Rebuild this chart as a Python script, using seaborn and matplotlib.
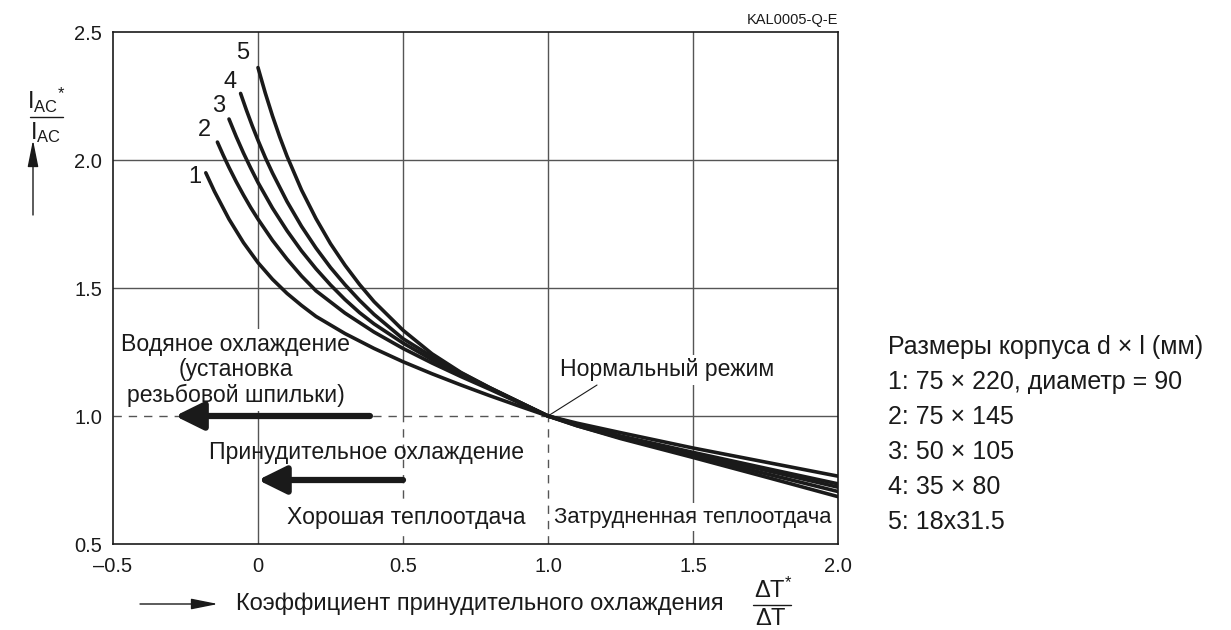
"""
Relative AC current vs. forced cooling coefficient
"""

import pandas as pd
import numpy as np
import matplotlib
matplotlib.use('Agg')
import matplotlib.pyplot as plt
from matplotlib.lines import Line2D
import seaborn as sns

"""
Data (read off the reference chart)
"""
curve_ids = ['1', '2', '3', '4', '5']

x_1 = [-0.18, -0.15, -0.10, -0.05, 0.00, 0.05, 0.10, 0.15, 0.20, 0.30, 0.40, 0.50,
       0.60, 0.70, 0.80, 0.90, 1.00, 1.10, 1.25, 1.50, 1.75, 2.00]
y_1 = [1.950, 1.877, 1.769, 1.677, 1.599, 1.534, 1.479, 1.432, 1.389, 1.322, 1.264, 1.212,
       1.165, 1.121, 1.079, 1.039, 1.000, 0.972, 0.935, 0.875, 0.820, 0.765]

x_2 = [-0.14, -0.12, -0.10, -0.075, -0.05, -0.025, 0.00, 0.05, 0.10, 0.15, 0.20, 0.30,
       0.40, 0.50, 0.60, 0.70, 0.80, 0.90, 1.00, 1.10, 1.25, 1.50, 1.75, 2.00]
y_2 = [2.070, 2.019, 1.971, 1.915, 1.863, 1.814, 1.769, 1.686, 1.613, 1.547, 1.489, 1.402,
       1.328, 1.264, 1.207, 1.154, 1.104, 1.052, 1.000, 0.968, 0.922, 0.858, 0.796, 0.735]

x_3 = [-0.10, -0.075, -0.05, -0.025, 0.00, 0.05, 0.10, 0.15, 0.20, 0.25, 0.30, 0.35,
       0.40, 0.50, 0.60, 0.70, 0.80, 0.90, 1.00, 1.10, 1.25, 1.50, 1.75, 2.00]
y_3 = [2.160, 2.091, 2.027, 1.968, 1.912, 1.812, 1.724, 1.645, 1.575, 1.512, 1.455, 1.404,
       1.360, 1.285, 1.220, 1.162, 1.108, 1.054, 1.000, 0.966, 0.918, 0.852, 0.788, 0.722]

x_4 = [-0.06, -0.04, -0.02, 0.00, 0.025, 0.05, 0.10, 0.15, 0.20, 0.25, 0.30, 0.35,
       0.40, 0.50, 0.60, 0.70, 0.80, 0.90, 1.00, 1.10, 1.25, 1.50, 1.75, 2.00]
y_4 = [2.260, 2.195, 2.134, 2.077, 2.010, 1.949, 1.838, 1.741, 1.656, 1.580, 1.513, 1.452,
       1.397, 1.302, 1.232, 1.168, 1.110, 1.055, 1.000, 0.962, 0.915, 0.845, 0.775, 0.705]

x_5 = [0.00, 0.025, 0.05, 0.075, 0.10, 0.15, 0.20, 0.25, 0.30, 0.35, 0.40, 0.50,
       0.60, 0.70, 0.80, 0.90, 1.00, 1.10, 1.25, 1.50, 1.75, 2.00]
y_5 = [2.361, 2.262, 2.172, 2.090, 2.015, 1.883, 1.771, 1.673, 1.589, 1.514, 1.447, 1.335,
       1.243, 1.170, 1.110, 1.055, 1.000, 0.962, 0.912, 0.838, 0.762, 0.685]

label_pos = {'1': (-0.217, 1.934), '2': (-0.183, 2.117), '3': (-0.134, 2.21),
             '4': (-0.097, 2.305), '5': (-0.052, 2.418)}

x_ticks = [-0.5, 0.0, 0.5, 1.0, 1.5, 2.0]
x_tick_labels = ['\u20130.5', '0', '0.5', '1.0', '1.5', '2.0']
y_ticks = [0.5, 1.0, 1.5, 2.0, 2.5]
y_tick_labels = ['0.5', '1.0', '1.5', '2.0', '2.5']

legend_lines = ['Размеры корпуса d \u00d7 l (мм)',
                '1: 75 \u00d7 220, диаметр = 90',
                '2: 75 \u00d7 145',
                '3: 50 \u00d7 105',
                '4: 35 \u00d7 80',
                '5: 18x31.5']

"""
Style
"""
W, H = 1231, 630
INK = '#1a1a1a'
GRID = '#555555'
FS = 16.6

sns.set_theme(style='white')
plt.rcParams['font.family'] = ['Liberation Sans', 'DejaVu Sans']
plt.rcParams['mathtext.fontset'] = 'custom'
plt.rcParams['mathtext.rm'] = 'Liberation Sans'
plt.rcParams['mathtext.it'] = 'Liberation Sans:italic'


def px(x, y):
    return x / W, 1 - y / H


def build_frame():
    xs = [x_1, x_2, x_3, x_4, x_5]
    ys = [y_1, y_2, y_3, y_4, y_5]
    parts = [pd.DataFrame({'curve': c, 'x': x, 'y': y}) for c, x, y in zip(curve_ids, xs, ys)]
    return pd.concat(parts, ignore_index=True)


def arrow(ax, tip, tail, lw, hl, hw, scale, coords='data'):
    ax.annotate('', xy=tip, xytext=tail, xycoords=coords, textcoords=coords,
                arrowprops=dict(arrowstyle=f'-|>,head_length={hl},head_width={hw}',
                                lw=lw, color=INK, shrinkA=0, shrinkB=0,
                                mutation_scale=scale))


def main():
    df = build_frame()

    fig = plt.figure(figsize=(W / 100, H / 100), dpi=100)
    ax = fig.add_axes([113 / W, 1 - 544 / H, (838 - 113) / W, (544 - 32) / H])

    # grid, with the dashed parts below / left of the nominal point
    ax.axvline(0.0, color=GRID, lw=1, zorder=1)
    ax.axvline(1.5, color=GRID, lw=1, zorder=1)
    for xv in [0.5, 1.0]:
        ax.axvline(xv, ymin=0.25, ymax=1, color=GRID, lw=1, zorder=1)
        ax.axvline(xv, ymin=0, ymax=0.25, color=GRID, lw=1, ls=(0, (6, 5)), zorder=1)
    for yv in [1.5, 2.0]:
        ax.axhline(yv, color=GRID, lw=1, zorder=1)
    ax.axhline(1.0, xmin=0.6, xmax=1, color=GRID, lw=1, zorder=1)
    ax.axhline(1.0, xmin=0, xmax=0.6, color=GRID, lw=1, ls=(0, (6, 5)), zorder=1)

    sns.lineplot(data=df, x='x', y='y', units='curve', estimator=None, sort=False,
                 color=INK, lw=2.6, ax=ax, zorder=5, legend=False)

    for c in curve_ids:
        lx, ly = label_pos[c]
        ax.text(lx, ly, c, fontsize=17, ha='center', va='center', color=INK)

    ax.set_xlim(-0.5, 2.0)
    ax.set_ylim(0.5, 2.5)
    ax.set_xticks(x_ticks, x_tick_labels)
    ax.set_yticks(y_ticks, y_tick_labels)
    ax.tick_params(length=0, labelsize=14.5, colors=INK)
    ax.tick_params(axis='x', pad=9)
    ax.tick_params(axis='y', pad=8)
    ax.set_xlabel('')
    ax.set_ylabel('')
    for s in ax.spines.values():
        s.set_color(INK)
        s.set_linewidth(1.2)

    box = dict(boxstyle='square,pad=0.15', fc='white', ec='none')

    ax.text(-0.076, 1.18, 'Водяное охлаждение\n(установка\nрезьбовой шпильки)',
            fontsize=FS, ha='center', va='center', linespacing=1.15, color=INK,
            bbox=box, zorder=3)
    arrow(ax, (-0.286, 1.0), (0.386, 1.0), lw=4.5, hl=0.85, hw=0.42, scale=20)

    ax.text(0.376, 0.859, 'Принудительное охлаждение', fontsize=FS,
            ha='center', va='center', color=INK, zorder=3)
    arrow(ax, (0.0, 0.75), (0.5, 0.75), lw=4.5, hl=0.85, hw=0.42, scale=20)

    ax.text(0.51, 0.605, 'Хорошая теплоотдача', fontsize=FS, ha='center',
            va='center', color=INK, bbox=box, zorder=3)
    ax.text(1.5, 0.605, 'Затрудненная теплоотдача', fontsize=15.8, ha='center',
            va='center', color=INK, bbox=box, zorder=3)

    ax.text(1.41, 1.18, 'Нормальный режим', fontsize=FS, ha='center',
            va='center', color=INK, bbox=box, zorder=3)
    ax.plot([1.0, 1.169], [1.0, 1.121], color=INK, lw=0.8, zorder=4)

    fig.text(*px(838, 20), 'KAL0005-Q-E', fontsize=10.5, ha='right', va='center', color=INK)

    # y axis label: fraction with arrow
    fig.text(*px(46, 100), r'$\mathregular{{I_{AC}}^{*}}$', fontsize=17,
             ha='center', va='center', color=INK)
    fig.add_artist(Line2D([30 / W, 63 / W], [1 - 117 / H, 1 - 117 / H], color=INK, lw=1))
    fig.text(*px(46, 133), r'$\mathregular{I_{AC}}$', fontsize=17,
             ha='center', va='center', color=INK)
    arrow(ax, px(33, 140), px(33, 215), lw=1, hl=1.1, hw=0.22, scale=15,
          coords='figure fraction')

    # x axis label
    arrow(ax, px(218, 604), px(140, 604), lw=1, hl=1.1, hw=0.22, scale=15,
          coords='figure fraction')
    fig.text(*px(236, 604), 'Коэффициент принудительного охлаждения', fontsize=17,
             ha='left', va='center', color=INK)
    fig.text(*px(773, 590), r'$\mathregular{\Delta T^{*}}$', fontsize=17,
             ha='center', va='center', color=INK)
    fig.add_artist(Line2D([753 / W, 791 / W], [1 - 605 / H, 1 - 605 / H], color=INK, lw=1))
    fig.text(*px(771, 619), r'$\mathregular{\Delta T}$', fontsize=17,
             ha='center', va='center', color=INK)

    # sizes legend
    for i, line in enumerate(legend_lines):
        fig.text(*px(888, 347 + i * 35), line, fontsize=18, ha='left',
                 va='center', color=INK)

    fig.savefig('out.png', dpi=100)
    plt.close(fig)


if __name__ == '__main__':
    main()
